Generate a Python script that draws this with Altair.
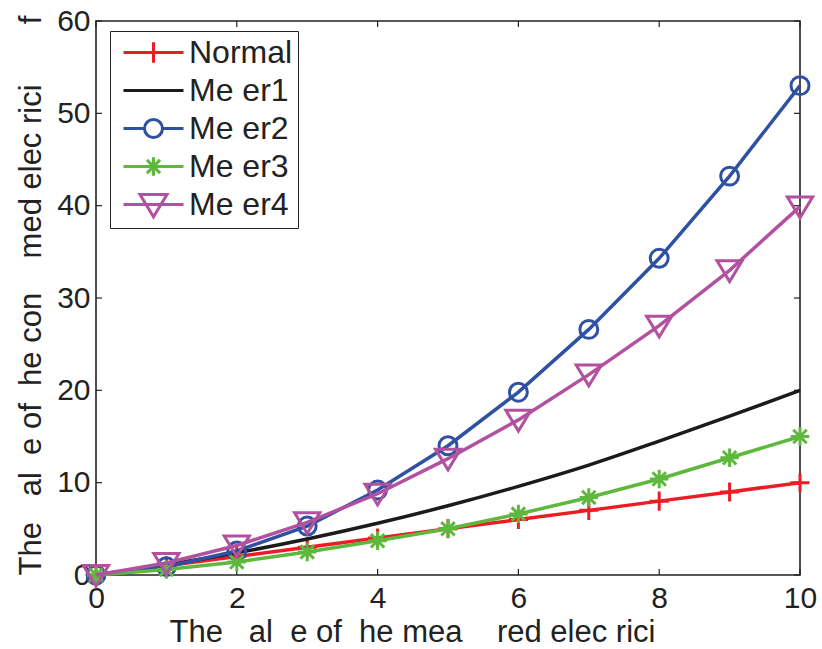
import altair as alt
import pandas as pd

# ---- data ----
x_vals = [0, 1, 2, 3, 4, 5, 6, 7, 8, 9, 10]
normal = [0, 1, 2, 3, 4, 5, 6, 7, 8, 9, 10]
meter1 = [0, 1.1, 2.4, 3.9, 5.6, 7.5, 9.6, 11.9, 14.5, 17.2, 20.0]
meter2 = [0, 0.9, 2.6, 5.3, 9.2, 14.0, 19.8, 26.6, 34.3, 43.2, 53.0]
meter3 = [0, 0.6, 1.4, 2.5, 3.7, 5.0, 6.6, 8.4, 10.4, 12.7, 15.0]
meter4 = [0, 1.3, 3.2, 5.7, 8.8, 12.6, 16.8, 21.7, 27.0, 33.0, 39.9]

series_names = ["Normal", "Me\u00a0er1", "Me\u00a0er2", "Me\u00a0er3", "Me\u00a0er4"]
series_values = [normal, meter1, meter2, meter3, meter4]
series_colors = ["#ec1c24", "#1b1b1b", "#2f51a2", "#5db83d", "#b1519f"]
series_smooth = [False, True, False, False, False]

x_ticks = [0, 2, 4, 6, 8, 10]
y_ticks = [0, 10, 20, 30, 40, 50, 60]

x_title = ("The\u00a0\u00a0\u00a0al\u00a0\u00a0e of\u00a0\u00a0he mea\u00a0\u00a0\u00a0\u00a0red elec\u00a0rici")
y_title = ("The\u00a0\u00a0\u00a0al\u00a0\u00a0e of\u00a0\u00a0he con\u00a0\u00a0\u00a0\u00a0med elec\u00a0rici"
           "\u00a0\u00a0\u00a0\u00a0\u00a0\u00a0\u00a0f")

# ---- marker shapes (styles), unit = half of sqrt(size) ----
plus_p = "M-0.68,0H0.68M0,-0.68V0.68"
circ_p = "M-0.64,0A0.64,0.64 0 1,0 0.64,0A0.64,0.64 0 1,0 -0.64,0Z"
star_p = "M-0.66,0H0.66M0,-0.66V0.66M-0.48,-0.48L0.48,0.48M-0.48,0.48L0.48,-0.48"
tri_p = "M-0.9,-0.68L0.9,-0.68L0,0.8Z"
marker_paths = [plus_p, None, circ_p, star_p, tri_p]

# legend symbols: line from -1 to 3 units (unit = 15 px), marker centred at +1
leg_paths = [
    "M-1,0H3M1,-0.68V0.68",
    "M-1,0H3",
    "M-1,0H0.4M1.6,0H3M0.4,0A0.6,0.6 0 1,0 1.6,0A0.6,0.6 0 1,0 0.4,0Z",
    "M-1,0H3M1,-0.62V0.62M0.56,-0.44L1.44,0.44M0.56,0.44L1.44,-0.44",
    "M-1,0H3M0.1,-0.66L1.9,-0.66L1,0.82Z",
]

W, H = 704, 554
FONT = "Liberation Sans"
TXT = "#222222"

rows = []
for name, vals in zip(series_names, series_values):
    for xv, yv in zip(x_vals, vals):
        rows.append({"x": xv, "y": yv, "series": name})
df = pd.DataFrame(rows)

xscale = alt.Scale(domain=[0, 10], nice=False, zero=False)
yscale = alt.Scale(domain=[0, 60], nice=False, zero=False)

x_axis = alt.Axis(
    values=x_ticks, title=x_title, grid=False, ticks=False, domain=False,
    labelFont=FONT, labelFontSize=30, labelColor=TXT, labelPadding=8,
    labelFlush=False, labelOverlap=False, labelBound=False,
    titleFont=FONT, titleFontSize=31, titleFontWeight="normal", titleColor=TXT,
    titleX=316, titleY=66, titleAlign="center", titleBaseline="alphabetic",
)
y_axis = alt.Axis(
    values=y_ticks, title=y_title, grid=False, ticks=False, domain=False,
    labelFont=FONT, labelFontSize=30, labelColor=TXT, labelPadding=6,
    labelFlush=False, labelOverlap=False, labelBound=False,
    titleFont=FONT, titleFontSize=31, titleFontWeight="normal", titleColor=TXT,
    titleX=-56, titleY=274, titleAngle=270, titleAlign="center", titleBaseline="alphabetic",
)

def X(field="x"):
    return alt.X(f"{field}:Q", scale=xscale, axis=x_axis)

def Y(field="y"):
    return alt.Y(f"{field}:Q", scale=yscale, axis=y_axis)

layers = []
for i, name in enumerate(series_names):
    sub = df[df["series"] == name]
    base = alt.Chart(sub)
    line = base.mark_line(
        strokeWidth=3.5, interpolate="monotone" if series_smooth[i] else "linear",
        color=series_colors[i],
    ).encode(x=X(), y=Y())
    layers.append(line)
    if marker_paths[i] is not None:
        pts = base.mark_point(
            shape=marker_paths[i], size=784, filled=False, strokeWidth=3, opacity=1,
            color=series_colors[i],
        ).encode(x=X(), y=Y())
        layers.append(pts)

leg = alt.Legend(
    title=None, orient="none", legendX=14, legendY=10,
    labelFont=FONT, labelFontSize=32, labelColor=TXT, labelLimit=400,
    labelOffset=34, symbolOffset=7, symbolSize=900, symbolStrokeWidth=3, symbolOpacity=1,
    rowPadding=5, padding=5, strokeColor="#222222", fillColor="white",
    cornerRadius=0,
)
# legend-only layer (invisible marks)
legend_layer = alt.Chart(df).mark_point(opacity=0, filled=False).encode(
    x=X(), y=Y(),
    color=alt.Color("series:N", scale=alt.Scale(domain=series_names, range=series_colors), legend=leg),
    shape=alt.Shape("series:N", scale=alt.Scale(domain=series_names, range=leg_paths), legend=leg),
)
layers.append(legend_layer)

# inward tick marks
xt = pd.DataFrame({"x": x_ticks})
yt = pd.DataFrame({"y": y_ticks})
TL = 6
tick_style = dict(color="#222222", strokeWidth=1.2)
ticks = [
    alt.Chart(xt).mark_rule(**tick_style).encode(x=X(), y=alt.value(H), y2=alt.value(H - TL)),
    alt.Chart(xt).mark_rule(**tick_style).encode(x=X(), y=alt.value(0), y2=alt.value(TL)),
    alt.Chart(yt).mark_rule(**tick_style).encode(y=Y(), x=alt.value(0), x2=alt.value(TL)),
    alt.Chart(yt).mark_rule(**tick_style).encode(y=Y(), x=alt.value(W), x2=alt.value(W - TL)),
]

chart = alt.layer(*ticks, *layers).properties(
    width=W, height=H,
    autosize=alt.AutoSizeParams(type="none"),
    padding={"left": 96, "top": 21, "right": 22, "bottom": 74},
    background="white",
).configure_view(
    stroke="#222222", strokeWidth=1.6
)

chart.save("out.html", embed_options={"renderer": "svg", "actions": False})
